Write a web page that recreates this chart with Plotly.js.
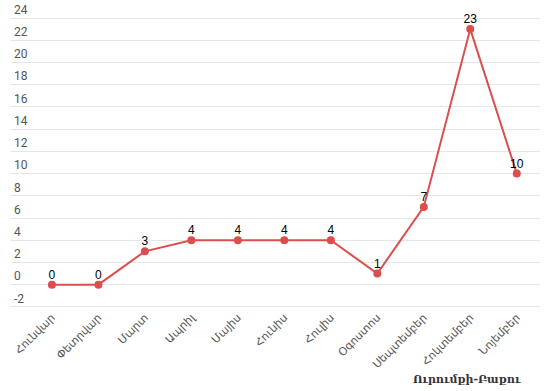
<!DOCTYPE html>
<html><head><meta charset="utf-8">
<script src="https://cdn.plot.ly/plotly-3.0.1.min.js"></script>
<style>html,body{margin:0;padding:0;background:#fff}#c{width:553px;height:391px}</style>
</head><body><div id="c"></div>
<script>
const months = ["Հունվար","Փետրվար","Մարտ","Ապրիլ","Մայիս","Հունիս","Հուլիս","Օգոստոս","Սեպտեմբեր","Հոկտեմբեր","Նոյեմբեր"];
const values = [0,0,3,4,4,4,4,1,7,23,10];
const yTicks = [-2,0,2,4,6,8,10,12,14,16,18,20,22,24];
const chartTitle = "Ուրումքի-Բաքու";

Plotly.newPlot('c', [{
  x: months, y: values, type: 'scatter', mode: 'lines+markers',
  line: {color: '#dc4e4e', width: 2},
  marker: {color: '#dc4e4e', size: 8},
  cliponaxis: false, hoverinfo: 'none'
}, {
  x: months, y: values, type: 'scatter', mode: 'markers+text',
  marker: {size: 3, color: 'rgba(0,0,0,0)'},
  text: values.map(String), textposition: 'top center',
  textfont: {family: 'Liberation Sans, Arial, sans-serif', size: 12, color: '#000'},
  cliponaxis: false, hoverinfo: 'none'
}], {
  width: 553, height: 391,
  margin: {l: 11, r: 13, t: 0, b: 83},
  paper_bgcolor: '#fff', plot_bgcolor: '#fff',
  showlegend: false,
  title: {text: chartTitle, xref: 'container', yref: 'container', x: 0.941, xanchor: 'right', y: 0.031, yanchor: 'middle',
          font: {family: 'DejaVu Serif, serif', size: 11, color: '#333', weight: 'bold'}},
  xaxis: {type: 'category', range: [-0.88, 10.5], showgrid: false, zeroline: false, showline: false,
          ticks: '', tickangle: -45, tickfont: {family: 'Noto Sans, DejaVu Sans, sans-serif', size: 11, color: '#555'}},
  yaxis: {range: [-2.1, 25.62], tickvals: yTicks, ticktext: yTicks.map(String), ticklabelposition: 'inside top',
          showgrid: true, gridcolor: '#e6e6e6', gridwidth: 1, zeroline: false, showline: false, ticks: '',
          tickfont: {family: 'Roboto, sans-serif', size: 12, color: '#555'}}
}, {displayModeBar: false, staticPlot: true});
</script></body></html>
